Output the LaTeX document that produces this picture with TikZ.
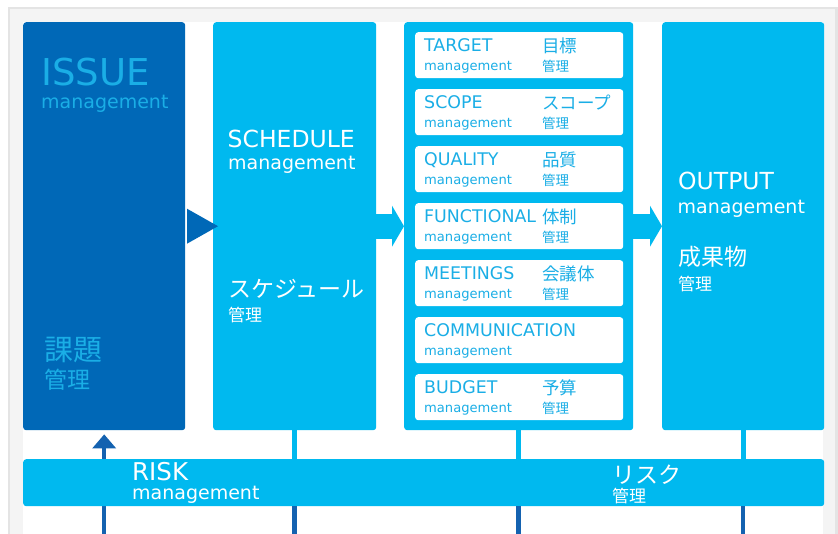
\documentclass[tikz,border=0pt]{standalone}
\usepackage{fontspec}
\setmainfont{DejaVu Sans}
\newfontfamily\jpfont{Noto Sans CJK JP}
\usetikzlibrary{arrows.meta, positioning, calc}
\definecolor{issueblue}{HTML}{0068B7}
\definecolor{skyblue}{HTML}{00B9EF}
\definecolor{textblue}{HTML}{1AAEE6}
\definecolor{lineblue}{HTML}{1462B0}
\definecolor{framegray}{HTML}{E4E4E4}
\definecolor{bandgray}{HTML}{F4F4F4}
\newcommand{\fs}[1]{\fontsize{#1}{#1}\selectfont}
\tikzset{panel/.style={fill=skyblue, rounded corners=3pt, inner sep=0pt, anchor=north west,
                       minimum width=162pt, minimum height=408pt},
         itembox/.style={fill=white, rounded corners=3pt, inner sep=0pt, anchor=north west,
                       minimum width=208pt, minimum height=46pt},
         lbl/.style={inner sep=0pt, anchor=base west, text=white},
         itemlbl/.style={lbl, text=textblue},
         riser/.style={draw=skyblue, line width=5pt},
         drop/.style={draw=lineblue, line width=4.5pt},
         flow/.style={draw=skyblue, line width=25pt, -{Triangle[width=41pt, length=12pt, line width=0pt]}}}

\begin{document}
\begin{tikzpicture}[x=1pt, y=-1pt]
    \useasboundingbox (0,0) rectangle (838,533);
    % frame
    \fill[framegray] (8,7) rectangle (840,540);
    \fill[bandgray] (10,9) rectangle (835,540);
    \fill[white] (23,22) rectangle (823,540);
    \coordinate (bot) at (0,535);

    % main panels
    \node[panel, fill=issueblue] (issue) at (23,22) {};
    \node[panel, minimum width=163pt] (sched) at (213,22) {};
    \node[panel, minimum width=229pt] (mid) at (404,22) {};
    \node[panel] (out) at (662,22) {};

    \foreach \en/\ja/\kr [count=\k] in {TARGET/目標/管理, SCOPE/スコープ/管理, QUALITY/品質/管理,
            FUNCTIONAL/体制/管理, MEETINGS/会議体/管理, COMMUNICATION//, BUDGET/予算/管理} {
        \node[itembox] (item\k) at (415,{32+57*(\k-1)}) {};
        \node[itemlbl] (item\k-en) at ($(item\k.north west)+(9,19)$) {\fs{17.4}\en};
        \node[itemlbl] (item\k-mg) at ($(item\k.north west)+(9,38)$) {\fs{13.1}management};
        \node[itemlbl] (item\k-ja) at ($(item\k.north west)+(127,20)$) {\jpfont\fs{17.5}\ja};
        \node[itemlbl] (item\k-kr) at ($(item\k.north west)+(127,39)$) {\jpfont\fs{13.5}\kr};
    }

    % labels
    \node[lbl, text=textblue] (issue-en) at (41,85) {\fs{37}ISSUE};
    \node[lbl, text=textblue] (issue-mg) at (41,108) {\fs{19}management};
    \node[lbl, text=textblue] (issue-ja) at (44,360) {\jpfont\fs{29}課題};
    \node[lbl, text=textblue] (issue-kr) at (44,388) {\jpfont\fs{23}管理};

    \node[lbl] (sched-en) at (227.5,147) {\fs{23.5}SCHEDULE};
    \node[lbl] (sched-mg) at (228,169) {\fs{19}management};
    \node[lbl] (sched-ja) at (228,297) {\jpfont\fs{23}スケジュール};
    \node[lbl] (sched-kr) at (228,321) {\jpfont\fs{17}管理};

    \node[lbl] (out-en) at (678,189) {\fs{23.5}OUTPUT};
    \node[lbl] (out-mg) at (677.5,213) {\fs{19}management};
    \node[lbl] (out-ja) at (678,265) {\jpfont\fs{23}成果物};
    \node[lbl] (out-kr) at (678,290) {\jpfont\fs{17}管理};

    % flow between panels
    \draw[issueblue, shorten <=2pt, shorten >=-5pt,
          -{Triangle[width=35pt, length=31pt, line width=0pt]}] (issue.east) -- (sched.west);
    \draw[flow] (sched.east) -- (mid.west);
    \draw[flow] (mid.east) -- (out.west);

    \draw[drop, shorten >=4pt, -{Triangle[width=24pt, length=14pt, line width=0pt]}]
        (issue.south |- bot) -- (issue.south);

    % risk bar
    \node[panel, minimum width=801pt, minimum height=47pt] (risk) at (23,459) {};
    \node[lbl] (risk-en) at (132,480) {\fs{24.5}RISK};
    \node[lbl] (risk-mg) at (132,499) {\fs{19}management};
    \node[lbl] (risk-ja) at (612,483) {\jpfont\fs{23}リスク};
    \node[lbl] (risk-kr) at (612,502) {\jpfont\fs{17}管理};

    \foreach \b in {sched, mid, out} {
        \draw[riser] (\b.south) -- (\b.south |- risk.center);
        \draw[drop] (\b.south |- risk.south) -- (\b.south |- bot);
    }
\end{tikzpicture}
\end{document}
